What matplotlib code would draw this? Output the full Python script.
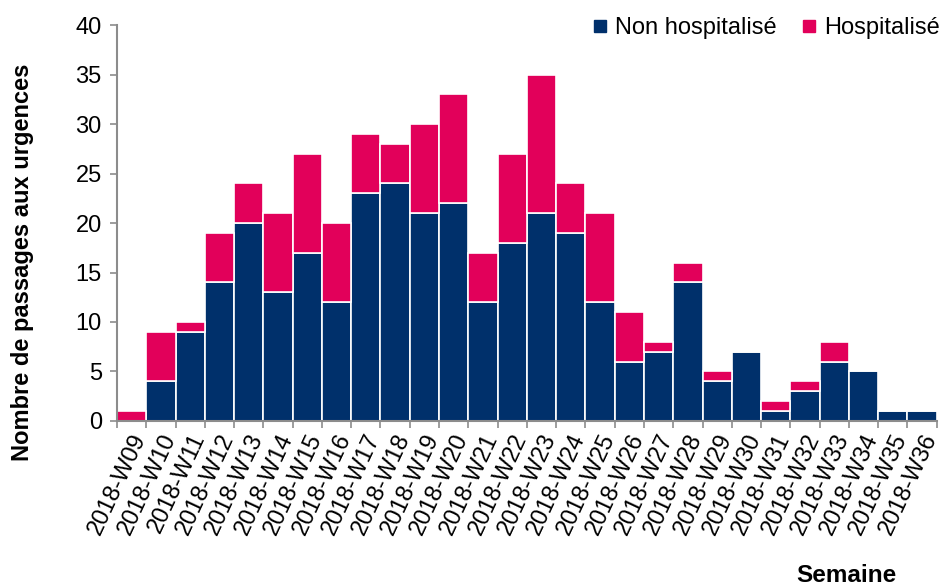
import matplotlib.pyplot as plt
import matplotlib.transforms as mtransforms
import numpy as np
from matplotlib.lines import Line2D

plt.rcParams["font.family"] = ["Liberation Sans", "DejaVu Sans"]

# data
weeks = [f"2018-W{w:02d}" for w in range(9, 37)]
non_hosp = [0, 4, 9, 14, 20, 13, 17, 12, 23, 24, 21, 22, 12, 18, 21, 19,
            12, 6, 7, 14, 4, 7, 1, 3, 6, 5, 1, 1]
hosp = [1, 5, 1, 5, 4, 8, 10, 8, 6, 4, 9, 11, 5, 9, 14, 5,
        9, 5, 1, 2, 1, 0, 1, 1, 2, 0, 0, 0]

navy = "#00306B"
pink = "#E2005A"
grey = "#8C8C8C"

fig = plt.figure(figsize=(9.4, 5.87), dpi=100)
ax = fig.add_axes([0.1245, 0.283, 0.872, 0.674])

x = np.arange(len(weeks))
ax.bar(x, non_hosp, width=1.0, color=navy, edgecolor="white", linewidth=1.2)
ax.bar(x, hosp, width=1.0, bottom=non_hosp, color=pink, edgecolor="white",
       linewidth=1.2)

ax.set_xlim(-0.5, len(weeks) - 0.5)
ax.set_ylim(0, 40)
ax.set_yticks(range(0, 41, 5))
ax.tick_params(axis="y", labelsize=17, length=5, color=grey, width=1.2,
               direction="out", pad=6)

# labels on bar centres, tick marks on bar boundaries
ax.set_xticks(x)
ax.set_xticklabels(weeks, rotation=65, ha="right", va="center",
                   rotation_mode="anchor", fontsize=17)
ax.tick_params(axis="x", which="major", length=0, pad=10)
shift = mtransforms.ScaledTranslation(9 / 100, 0, fig.dpi_scale_trans)
for lbl in ax.get_xticklabels():
    lbl.set_transform(lbl.get_transform() + shift)
ax.set_xticks(np.arange(-0.5, len(weeks), 1), minor=True)
ax.tick_params(axis="x", which="minor", length=5, color=grey, width=1.2)

for s in ["top", "right"]:
    ax.spines[s].set_visible(False)
for s in ["left", "bottom"]:
    ax.spines[s].set_color(grey)
    ax.spines[s].set_linewidth(1.5)

fig.text(0.024, 0.553, "Nombre de passages aux urgences", fontsize=17,
         fontweight="bold", rotation=90, ha="center", va="center")
fig.text(0.9, 0.008, "Semaine", fontsize=17.5, fontweight="bold", ha="center")

handles = [
    Line2D([], [], marker="s", linestyle="", color=navy, markersize=8),
    Line2D([], [], marker="s", linestyle="", color=pink, markersize=8),
]
ax.legend(handles, ["Non hospitalisé", "Hospitalisé"], loc="upper right",
          bbox_to_anchor=(1.03, 1.075), ncol=2, frameon=False, fontsize=17,
          handlelength=0.7, handletextpad=0.3, columnspacing=1.0)

fig.savefig("out.png", dpi=100)
